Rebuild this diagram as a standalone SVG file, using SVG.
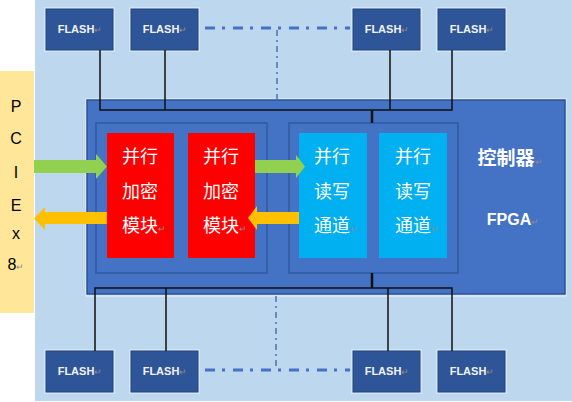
<svg xmlns="http://www.w3.org/2000/svg" width="572" height="402" viewBox="0 0 572 402">
<style>
.flash{fill:#2E5597;stroke:#23467F;stroke-width:1}
.halo{fill:none;stroke:#DCEAF7;stroke-width:1.5}
.ft{font-family:"Liberation Sans",Arial,sans-serif;font-size:11px;font-weight:bold;fill:#F2F2F2;text-anchor:middle}
.pm{fill:#8C8C8C;font-size:9px;font-weight:normal}
.cn{font-family:"Noto Sans CJK SC","Noto Sans",sans-serif;font-size:18px;fill:#FFFFFF}
.pc{font-family:"Liberation Sans",Arial,sans-serif;font-size:16px;fill:#000000;text-anchor:middle}
.inner{fill:#4472C4;stroke:#3560A8;stroke-width:2}
.bus{fill:none;stroke:#111111;stroke-width:1.5}
.dd{fill:none;stroke:#4472C4}
</style>
<rect x="0" y="0" width="572" height="402" fill="#FFFFFF"/>
<rect x="35" y="0" width="537" height="401" fill="#BDD7EE"/>

<g id="pcie">
<rect x="0" y="71" width="34" height="242" fill="#FFE699"/>
<text class="pc" x="16" y="112">P</text>
<text class="pc" x="16" y="144">C</text>
<text class="pc" x="16" y="178">I</text>
<text class="pc" x="16" y="211">E</text>
<text class="pc" x="16" y="239">x</text>
<text class="pc" x="16" y="270">8<tspan class="pm" font-size="9">↵</tspan></text>
</g>

<g id="fpga">
<rect x="86" y="99" width="480" height="197" fill="none" stroke="#DCEAF7" stroke-width="1.5"/>
<rect x="87" y="100" width="478" height="194" fill="#4472C4" stroke="#2F528F" stroke-width="1.5"/>
<text x="510" y="165" font-family="Noto Sans CJK SC,Noto Sans,sans-serif" font-size="19" font-weight="bold" fill="#FFFFFF" text-anchor="middle">控制器<tspan class="pm" font-size="11">↵</tspan></text>
<text x="513" y="225" font-family="Liberation Sans,Arial,sans-serif" font-size="16" font-weight="bold" fill="#FFFFFF" text-anchor="middle">FPGA<tspan class="pm" font-size="11">↵</tspan></text>
</g>

<g id="enc-group"><rect class="inner" x="96" y="123" width="171" height="150"/></g>
<g id="rw-group"><rect class="inner" x="289" y="123" width="169" height="150"/></g>

<g id="enc1">
<rect x="107" y="133" width="67" height="125" fill="#FF0000"/>
<text class="cn" x="122" y="163">并行</text>
<text class="cn" x="122" y="198">加密</text>
<text class="cn" x="122" y="232">模块<tspan class="pm" font-size="11">↵</tspan></text>
</g>
<g id="enc2">
<rect x="188" y="133" width="67" height="125" fill="#FF0000"/>
<text class="cn" x="203" y="163">并行</text>
<text class="cn" x="203" y="198">加密</text>
<text class="cn" x="203" y="232">模块<tspan class="pm" font-size="11">↵</tspan></text>
</g>
<g id="rw1">
<rect x="299" y="133" width="68" height="125" fill="#00B0F0"/>
<text class="cn" x="314" y="163">并行</text>
<text class="cn" x="314" y="198">读写</text>
<text class="cn" x="314" y="232">通道<tspan class="pm" font-size="11">↵</tspan></text>
</g>
<g id="rw2">
<rect x="379" y="133" width="68" height="125" fill="#00B0F0"/>
<text class="cn" x="395" y="163">并行</text>
<text class="cn" x="395" y="198">读写</text>
<text class="cn" x="395" y="232">通道<tspan class="pm" font-size="11">↵</tspan></text>
</g>

<g id="flash-t1"><rect class="halo" x="45" y="8" width="69" height="43"/><rect class="flash" x="46" y="9" width="67" height="41"/><text class="ft" x="80" y="33">FLASH<tspan class="pm">↵</tspan></text></g>
<g id="flash-t2"><rect class="halo" x="130" y="8" width="69" height="43"/><rect class="flash" x="131" y="9" width="67" height="41"/><text class="ft" x="165" y="33">FLASH<tspan class="pm">↵</tspan></text></g>
<g id="flash-t3"><rect class="halo" x="352" y="8" width="69" height="43"/><rect class="flash" x="353" y="9" width="67" height="41"/><text class="ft" x="387" y="33">FLASH<tspan class="pm">↵</tspan></text></g>
<g id="flash-t4"><rect class="halo" x="437" y="8" width="69" height="43"/><rect class="flash" x="438" y="9" width="67" height="41"/><text class="ft" x="472" y="33">FLASH<tspan class="pm">↵</tspan></text></g>
<g id="flash-b1"><rect class="halo" x="45" y="350" width="69" height="43"/><rect class="flash" x="46" y="351" width="67" height="41"/><text class="ft" x="80" y="375">FLASH<tspan class="pm">↵</tspan></text></g>
<g id="flash-b2"><rect class="halo" x="130" y="350" width="69" height="43"/><rect class="flash" x="131" y="351" width="67" height="41"/><text class="ft" x="165" y="375">FLASH<tspan class="pm">↵</tspan></text></g>
<g id="flash-b3"><rect class="halo" x="352" y="350" width="69" height="43"/><rect class="flash" x="353" y="351" width="67" height="41"/><text class="ft" x="387" y="375">FLASH<tspan class="pm">↵</tspan></text></g>
<g id="flash-b4"><rect class="halo" x="437" y="350" width="69" height="43"/><rect class="flash" x="438" y="351" width="67" height="41"/><text class="ft" x="472" y="375">FLASH<tspan class="pm">↵</tspan></text></g>

<g id="connectors">
<path class="bus" d="M100 50V110H452V50M165 50V110M390 50V110"/>
<path d="M372 110V123" stroke="#111111" stroke-width="2.5"/>
<path class="bus" d="M95 351V288H452V351M166 351V288M388 351V288"/>
<path d="M372 273V288" stroke="#111111" stroke-width="2.5"/>
<path class="dd" d="M205 28H350" stroke-width="3" stroke-dasharray="10 7 3 8"/>
<path class="dd" d="M277 30V100" stroke-width="1.5" stroke-dasharray="6 4 2 4"/>
<path class="dd" d="M205 370H350" stroke-width="3" stroke-dasharray="10 7 3 8"/>
<path class="dd" d="M276 296V368" stroke-width="1.5" stroke-dasharray="6 4 2 4"/>
<polygon points="34,160 96,160 96,154 107,166.5 96,179 96,173 34,173" fill="#92D050"/>
<polygon points="255,160 296,160 296,155 305,166.5 296,178 296,173 255,173" fill="#92D050"/>
<polygon points="107,212 45,212 45,207 34,218.5 45,230 45,224 107,224" fill="#FFC000"/>
<polygon points="299,212 257,212 257,206 248,218 257,230 257,224 299,224" fill="#FFC000"/>
</g>
</svg>
